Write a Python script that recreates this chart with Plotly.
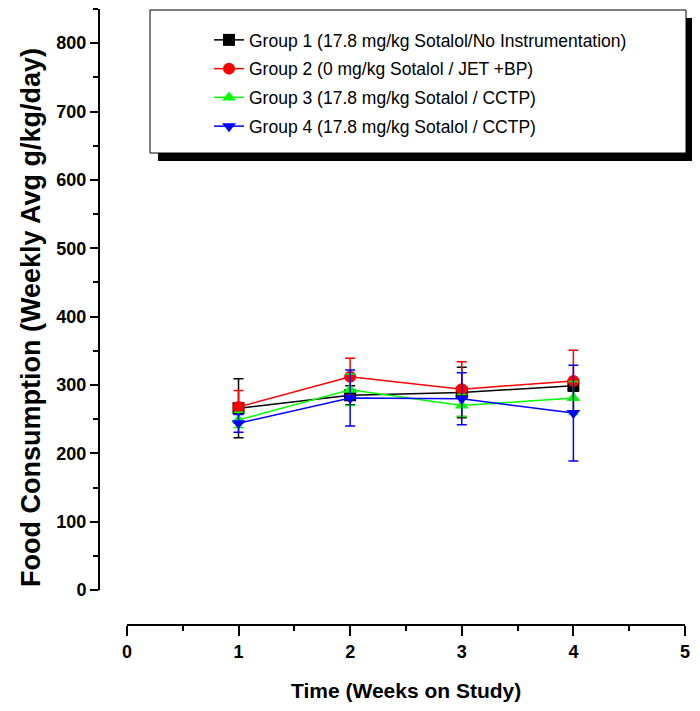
import plotly.graph_objects as go

weeks = [1, 2, 3, 4]
names = [
    "Group 1 (17.8 mg/kg Sotalol/No Instrumentation)",
    "Group 2 (0 mg/kg Sotalol / JET +BP)",
    "Group 3 (17.8 mg/kg Sotalol / CCTP)",
    "Group 4 (17.8 mg/kg Sotalol / CCTP)",
]
g1 = [266, 285, 289, 299]
g1_err = [43, 14, 37, 8]
g2 = [268, 312, 294, 306]
g2_err = [24, 27, 40, 45]
g3 = [249, 293, 270, 281]
g3_err = [11, 23, 16, 24]
g4 = [244, 281, 280, 259]
g4_err = [13, 41, 38, 70]

colors = ["#000000", "#FF0000", "#00FF00", "#0000FF"]
symbols = ["square", "circle", "triangle-up", "triangle-down"]
series = [g1, g2, g3, g4]
errs = [g1_err, g2_err, g3_err, g4_err]

# page has an 8px body margin; work in page pixels and convert
OFF = 8
W, H = 692, 703
L, R, T, B = 99 - OFF, 15, 9 - OFF, 86
pw, ph = W - L - R, H - T - B

def px2x(px):
    return (px - OFF - L) / pw

def py2y(py):
    return (H - B - (py - OFF)) / ph

fig = go.Figure()
for i in range(4):
    fig.add_trace(go.Scatter(
        x=weeks, y=series[i], name=names[i], mode="lines+markers",
        legendgroup=f"g{i}",
        line=dict(color=colors[i], width=1.5),
        marker=dict(symbol=symbols[i], size=12, color=colors[i]),
        error_y=dict(type="data", array=errs[i], color=colors[i], thickness=1.5, width=5),
    ))

font = "Liberation Sans, Arial"

shapes = [
    dict(type="line", xref="paper", yref="y", x0=0, x1=0, y0=0, y1=850,
         line=dict(color="black", width=2)),
    dict(type="line", xref="x", yref="paper", x0=0, x1=5, y0=0, y1=0,
         line=dict(color="black", width=2)),
    dict(type="rect", xref="paper", yref="paper", x0=px2x(158), x1=px2x(693),
         y0=py2y(161), y1=py2y(18), fillcolor="black", line=dict(width=0)),
    dict(type="rect", xref="paper", yref="paper", x0=px2x(150), x1=px2x(686),
         y0=py2y(153), y1=py2y(10), fillcolor="white", line=dict(color="black", width=1)),
]

annotations = [
    dict(text="<b>Time (Weeks on Study)</b>", xref="x", yref="paper", x=2.5, y=py2y(690),
         showarrow=False, font=dict(family=font, size=21, color="black"),
         xanchor="center", yanchor="middle"),
    dict(text="<b>Food Consumption (Weekly Avg g/kg/day)</b>", xref="paper", yref="paper",
         x=px2x(31), y=py2y(318), textangle=-90, showarrow=False,
         font=dict(family=font, size=27, color="black"), xanchor="center", yanchor="middle"),
]

fig.update_layout(
    width=W, height=H,
    margin=dict(l=L, r=R, t=T, b=B),
    plot_bgcolor="white", paper_bgcolor="white",
    showlegend=True,
    legend=dict(x=px2x(209), y=py2y(22), xanchor="left", yanchor="top",
                bgcolor="rgba(0,0,0,0)", borderwidth=0,
                font=dict(family=font, size=17.5, color="black"),
                tracegroupgap=3),
    shapes=shapes,
    annotations=annotations,
    xaxis=dict(range=[-0.25, 5], showgrid=False, zeroline=False, showline=False,
               tickvals=[0, 1, 2, 3, 4, 5], ticks="outside", ticklen=10, tickwidth=2,
               tickcolor="black",
               tickfont=dict(family=font, size=18, color="black", weight="bold"),
               minor=dict(tickvals=[0.5, 1.5, 2.5, 3.5, 4.5], ticks="outside", ticklen=5,
                          tickwidth=2, tickcolor="black")),
    yaxis=dict(range=[-51, 850], showgrid=False, zeroline=False, showline=False,
               tickvals=[0, 100, 200, 300, 400, 500, 600, 700, 800], ticks="outside",
               ticklen=8, tickwidth=2, tickcolor="black",
               tickfont=dict(family=font, size=18, color="black", weight="bold"),
               minor=dict(tickvals=[50, 150, 250, 350, 450, 550, 650, 750, 850],
                          ticks="outside", ticklen=5, tickwidth=2, tickcolor="black")),
)

fig.write_html("out.html")
